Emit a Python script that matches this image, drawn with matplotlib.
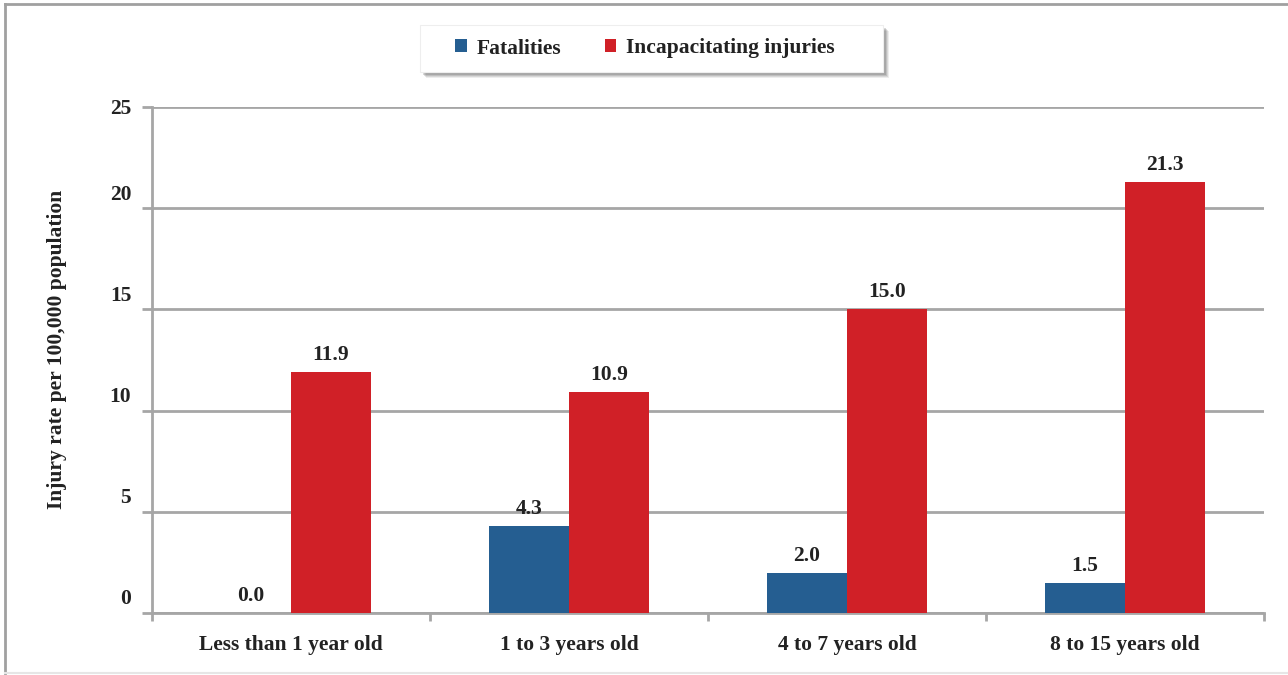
import matplotlib
matplotlib.use("Agg")
import matplotlib.pyplot as plt
import numpy as np
from matplotlib.lines import Line2D
from matplotlib.patches import Rectangle
from matplotlib.transforms import ScaledTranslation

plt.rcParams['font.family'] = ['Liberation Serif', 'DejaVu Serif']
plt.rcParams['font.weight'] = 'bold'

categories = ["Less than 1 year old", "1 to 3 years old", "4 to 7 years old", "8 to 15 years old"]
fatalities = [0.0, 4.3, 2.0, 1.5]
incapacitating = [11.9, 10.9, 15.0, 21.3]
series_names = ["Fatalities", "Incapacitating injuries"]
y_ticks = [0, 5, 10, 15, 20, 25]
y_label = "Injury rate per 100,000 population"

BLUE = "#255E91"
RED = "#D02027"
GRID = "#A6A6A6"
TEXT = "#222222"
FS = 15.5
W, H = 1288, 675

fig = plt.figure(figsize=(W / 100, H / 100), dpi=100)
ax = fig.add_axes([152/W, 1 - 613/H, (1264 - 152)/W, (613 - 107)/H])

x = np.arange(len(categories))
w = 0.287
b1 = ax.bar(x - w/2, fatalities, w, color=BLUE, label=series_names[0], zorder=3)
b2 = ax.bar(x + w/2, incapacitating, w, color=RED, label=series_names[1], zorder=3)

for bars, vals in ((b1, fatalities), (b2, incapacitating)):
    for rect, v in zip(bars, vals):
        ax.annotate(f"{v:.1f}", (rect.get_x() + rect.get_width()/2, v),
                    xytext=(0, 5), textcoords="offset points",
                    ha="center", va="bottom", fontsize=FS, fontweight="bold",
                    color=TEXT)

ax.set_xlim(-0.5, len(categories) - 0.5)
ax.set_ylim(0, 25)
ax.set_yticks(y_ticks)
ax.set_yticklabels([str(t) for t in y_ticks], fontsize=FS, fontweight="bold", color=TEXT)
ax.set_xticks(x)
ax.set_xticklabels(categories, fontsize=FS, fontweight="bold", color=TEXT)
ax.set_xticks(np.arange(-0.5, len(categories)), minor=True)
ax.tick_params(axis="x", which="major", length=0, pad=16)
ax.tick_params(axis="x", which="minor", length=6, width=2, color=GRID, direction="out")
ax.tick_params(axis="y", length=7, width=2, color=GRID, direction="out", pad=8)

# y labels sit a little above their gridlines, except the top one
lift = ScaledTranslation(0, 16/100, fig.dpi_scale_trans)
for lbl in ax.get_yticklabels()[:-1]:
    lbl.set_transform(lbl.get_transform() + lift)

ax.yaxis.grid(True, color=GRID, linewidth=2, zorder=0)
ax.set_axisbelow(True)
for s in ("top", "right"):
    ax.spines[s].set_visible(False)
for s in ("left", "bottom"):
    ax.spines[s].set_color(GRID)
    ax.spines[s].set_linewidth(2)

fig.text(57/W, 1 - 349/H, y_label, rotation=90, ha="center", va="center",
         fontsize=FS, fontweight="bold", color=TEXT)

# legend box with a soft drop shadow
bx0, by0, bx1, by1 = 420, 25, 883, 72
for i, a in enumerate([0.10, 0.14, 0.18, 0.22]):
    off = 6 - i
    fig.add_artist(Rectangle(((bx0 + off) / W, 1 - (by1 + off) / H),
                             (bx1 - bx0) / W, (by1 - by0) / H,
                             transform=fig.transFigure, facecolor="#555555",
                             edgecolor="none", alpha=a, zorder=1))
fig.add_artist(Rectangle((bx0 / W, 1 - by1 / H), (bx1 - bx0) / W, (by1 - by0) / H,
                         transform=fig.transFigure, facecolor="white",
                         edgecolor="#EEEEEE", linewidth=0.8, zorder=2))

leg = fig.legend(loc="center", bbox_to_anchor=(645/W, 1 - 48.5/H), ncol=2,
                 fontsize=FS, frameon=False,
                 handlelength=0.55, handleheight=0.55, handletextpad=0.45,
                 columnspacing=2.0, borderpad=0, borderaxespad=0)
leg.set_zorder(3)
for t in leg.get_texts():
    t.set_color(TEXT)

# outer frame lines around the chart area
fig.add_artist(Line2D([5/W, 5/W], [1 - 673/H, 1 - 4/H],
                      transform=fig.transFigure, color="#A0A0A0", linewidth=2))
fig.add_artist(Line2D([5/W, 1], [1 - 4/H, 1 - 4/H],
                      transform=fig.transFigure, color="#A0A0A0", linewidth=2))
fig.add_artist(Line2D([5/W, 1], [1 - 673/H, 1 - 673/H],
                      transform=fig.transFigure, color="#E6E6E6", linewidth=1.5))

fig.savefig("out.png", dpi=100)
